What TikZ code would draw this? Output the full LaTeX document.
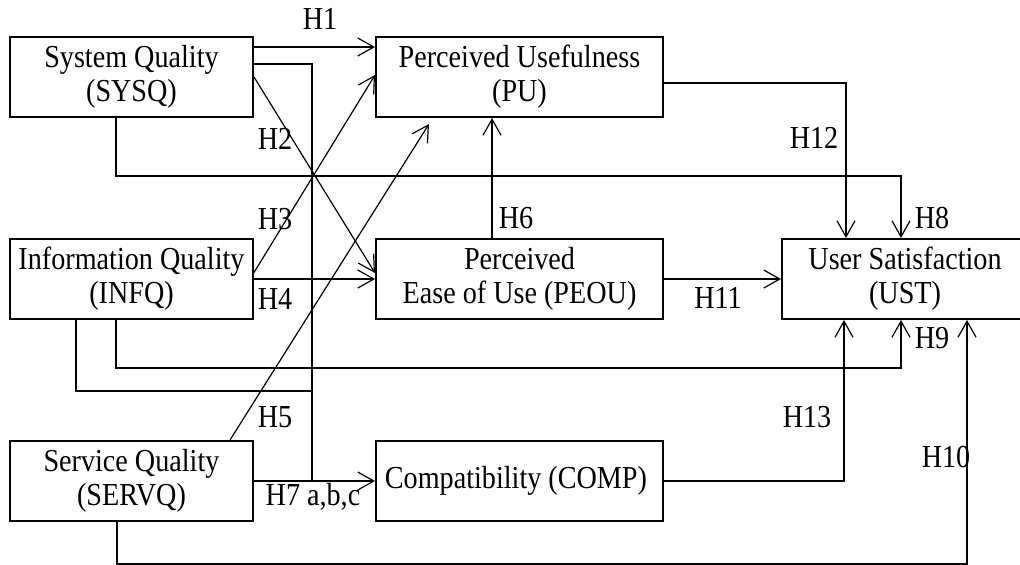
\documentclass[tikz,border=0pt]{standalone}
\usepackage{fontspec}
\setmainfont{Liberation Serif}[FakeStretch=0.88]
\usetikzlibrary{arrows.meta}
\usetikzlibrary{positioning}
\tikzstyle{rect} = [rectangle,
minimum width=121.5pt,
minimum height=40pt,
inner ysep=1pt,
align=center,
line width=1pt,
draw=black]
\tikzstyle{wrect} = [rect,
minimum width=143.5pt]
\tikzstyle{arrow} = [line width=0.6pt,-{Straight Barb[length=8pt,width=9pt]}]
\tikzstyle{link} = [line width=0.6pt]
\tikzstyle{hyp} = [inner sep=0pt]

\begin{document}
\begin{tikzpicture}[node distance=60pt and 60.5pt, font=\fontsize{16}{17}\selectfont]

\useasboundingbox (0,0) rectangle (510pt,-282pt);

\node (sys_qual) [rect] at (65.75pt,-38.5pt) {
  System Quality\\(SYSQ)
};

\node (perc_use) [wrect, right = of sys_qual] {
  Perceived Usefulness\\(PU)
};

\node (info_qual) [rect, below = of sys_qual] {
  Information Quality\\(INFQ)
};

\node (perc_ease) [wrect, below = of perc_use] {
  Perceived\\Ease of Use (PEOU)
};

\node (serv_qual) [rect, below = of info_qual] {
  Service Quality\\(SERVQ)
};

\node (compat) [wrect, below = of perc_ease] {
  Compatibility (COMP)
};

\node (user_sat) [rect, minimum width=123pt, right = 58.5pt of perc_ease] {
  User Satisfaction\\(UST)
};

\coordinate (junc) at ([xshift=29pt]serv_qual.east);

\node (h1) [hyp] at (160pt,-9.5pt) {H1};
\node (h2) [hyp] at (137.5pt,-69.5pt) {H2};
\node (h3) [hyp] at (137.5pt,-109.5pt) {H3};
\node (h4) [hyp] at (137.5pt,-149.5pt) {H4};
\node (h5) [hyp] at (137.5pt,-208.5pt) {H5};
\node (h6) [hyp] at (258pt,-109pt) {H6};
\node (h7) [hyp] at (156.5pt,-248.5pt) {H7 a,b,c};
\node (h8) [hyp] at (466pt,-109pt) {H8};
\node (h9) [hyp] at (466pt,-169pt) {H9};
\node (h10) [hyp] at (473pt,-228.5pt) {H10};
\node (h11) [hyp] at (359pt,-149pt) {H11};
\node (h12) [hyp] at (407pt,-69pt) {H12};
\node (h13) [hyp] at (403.5pt,-208.5pt) {H13};

\draw [arrow] ([yshift=-5.5pt]sys_qual.north east) -- ([yshift=-5.5pt]perc_use.north west);
\draw [link] ([yshift=-14pt]sys_qual.north east) -| (junc);
\draw [arrow] (sys_qual.east) -- ([yshift=3pt]perc_ease.west);
\draw [arrow] ([yshift=3.25pt]info_qual.east) -- ([yshift=1pt]perc_use.west);
\draw [arrow] (info_qual.east) -- (perc_ease.west);
\draw [arrow] ([xshift=-7.75pt]sys_qual.south) -- ++(0,-29pt) -| ([xshift=-2pt]user_sat.north);
\draw [arrow] ([yshift=-3pt]perc_use.east) -| ([xshift=-29.5pt]user_sat.north);
\draw [arrow] ([xshift=-13.75pt]perc_ease.north) -- ([xshift=-13.75pt]perc_use.south);
\draw [arrow] (perc_ease.east) -- (user_sat.west);
\draw [arrow] ([xshift=-7.75pt]info_qual.south) -- ++(0,-24pt) -| ([xshift=-2pt]user_sat.south);
\draw [link] ([xshift=-27.75pt]info_qual.south) -- ++(0,-35.5pt) -| (junc);
\draw [arrow] ([xshift=49.25pt]serv_qual.north) -- ([xshift=-45.25pt,yshift=-3pt]perc_use.south);
\draw [arrow] (serv_qual.east) -- (compat.west);
\draw [arrow] (compat.east) -| ([xshift=-30.5pt]user_sat.south);
\draw [arrow] ([xshift=-7.25pt]serv_qual.south) -- ++(0,-21pt) -| ([xshift=31pt]user_sat.south);

\end{tikzpicture}
\end{document}
